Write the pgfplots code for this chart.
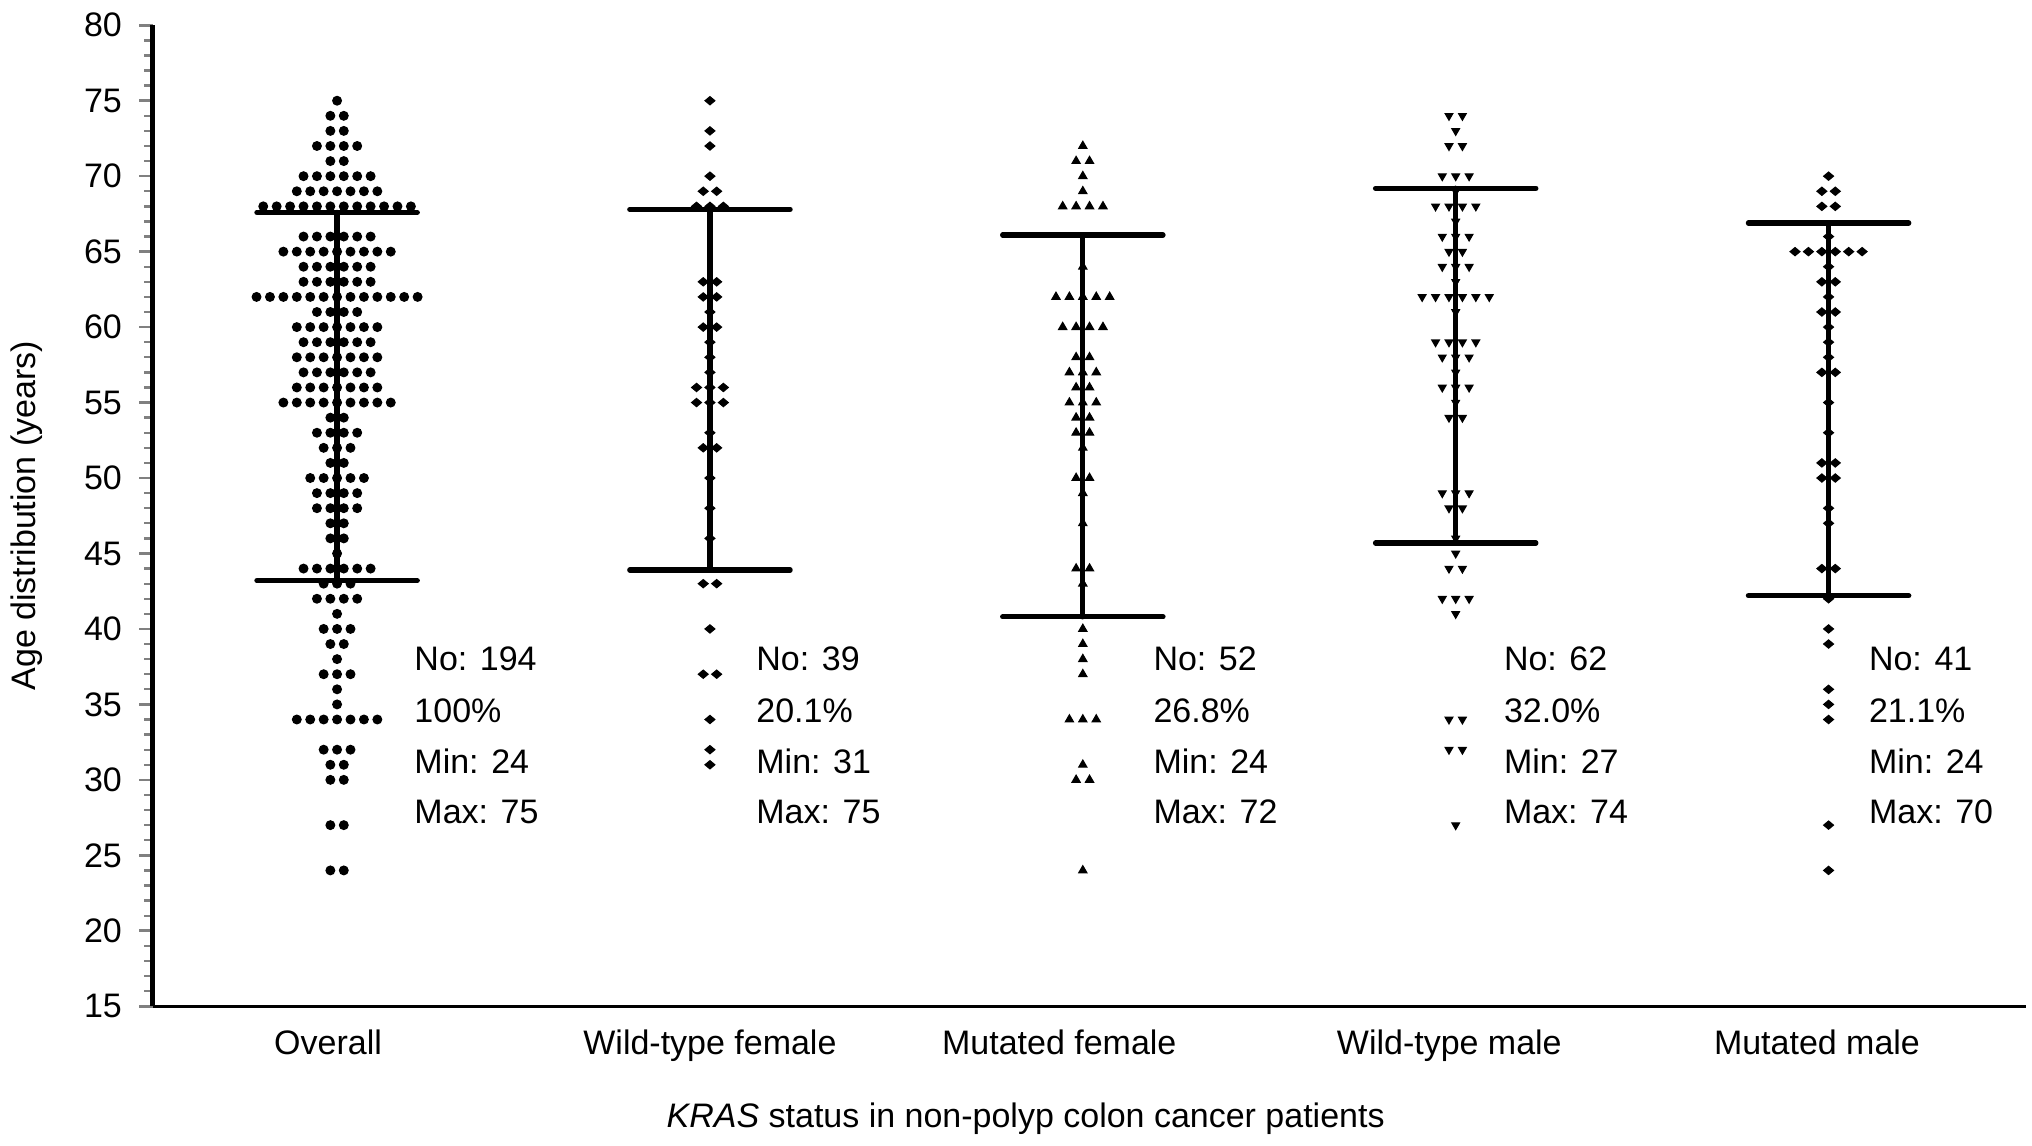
\documentclass[border=0pt]{standalone}
\usepackage{fontspec}
\setmainfont{Liberation Sans}
\usepackage{pgfplots}
\pgfplotsset{compat=1.18}
\begin{document}
\begin{tikzpicture}[font=\fontsize{11.7}{14}\selectfont]
\begin{axis}[
  width=645pt, height=337.7pt, scale only axis,
  xmin=-0.495, xmax=4.53, ymin=15, ymax=80,
  axis x line*=bottom, axis y line*=left,
  x axis line style={line width=1.15pt},
  y axis line style={line width=1.4pt},
  xtick={0,1,2,3,4},
  xticklabels={\hspace*{-6.2pt}Overall,Wild-type female,\hspace*{-16.2pt}Mutated female,\hspace*{-4.4pt}Wild-type male,\hspace*{-8pt}Mutated male},
  xtick style={draw=none},
  ytick={15,20,...,80},
  minor y tick num=4,
  tick align=outside,
  tick pos=left,
  major tick length=4.6pt, minor tick length=2.8pt,
  ytick style={line width=0.9pt},
  minor y tick style={line width=0.8pt},
  tick label style={font=\fontsize{11.7}{14}\selectfont},
  /pgf/number format/assume math mode=true,
  xticklabel style={yshift=0pt},
  yticklabel style={xshift=-2.4pt},
  xlabel={\textit{KRAS} status in non-polyp colon cancer patients},
  ylabel={Age distribution (years)},
  every axis x label/.style={at={(axis description cs:0.466,0)}, anchor=base, yshift=-41.7pt},
  every axis y label/.style={at={(axis description cs:-0.067,0.5)}, anchor=center, rotate=90},
  unbounded coords=jump,
  clip=false,
]
\coordinate (ll) at (rel axis cs:0,0);
\coordinate (ur) at (rel axis cs:1,1);

% Overall
\addplot[only marks, mark=*, mark size=1.5pt, black] coordinates {
(0,75)
(-0.018,74) (0.018,74)
(-0.018,73) (0.018,73)
(-0.054,72) (-0.018,72) (0.018,72) (0.054,72)
(-0.018,71) (0.018,71)
(-0.09,70) (-0.054,70) (-0.018,70) (0.018,70) (0.054,70) (0.09,70)
(-0.108,69) (-0.072,69) (-0.036,69) (0,69) (0.036,69) (0.072,69) (0.108,69)
(-0.198,68) (-0.162,68) (-0.126,68) (-0.09,68) (-0.054,68) (-0.018,68) (0.018,68) (0.054,68) (0.09,68) (0.126,68) (0.162,68) (0.198,68)
(-0.09,66) (-0.054,66) (-0.018,66) (0.018,66) (0.054,66) (0.09,66)
(-0.144,65) (-0.108,65) (-0.072,65) (-0.036,65) (0,65) (0.036,65) (0.072,65) (0.108,65) (0.144,65)
(-0.09,64) (-0.054,64) (-0.018,64) (0.018,64) (0.054,64) (0.09,64)
(-0.09,63) (-0.054,63) (-0.018,63) (0.018,63) (0.054,63) (0.09,63)
(-0.216,62) (-0.18,62) (-0.144,62) (-0.108,62) (-0.072,62) (-0.036,62) (0,62) (0.036,62) (0.072,62) (0.108,62) (0.144,62) (0.18,62) (0.216,62)
(-0.054,61) (-0.018,61) (0.018,61) (0.054,61)
(-0.108,60) (-0.072,60) (-0.036,60) (0,60) (0.036,60) (0.072,60) (0.108,60)
(-0.09,59) (-0.054,59) (-0.018,59) (0.018,59) (0.054,59) (0.09,59)
(-0.108,58) (-0.072,58) (-0.036,58) (0,58) (0.036,58) (0.072,58) (0.108,58)
(-0.09,57) (-0.054,57) (-0.018,57) (0.018,57) (0.054,57) (0.09,57)
(-0.108,56) (-0.072,56) (-0.036,56) (0,56) (0.036,56) (0.072,56) (0.108,56)
(-0.144,55) (-0.108,55) (-0.072,55) (-0.036,55) (0,55) (0.036,55) (0.072,55) (0.108,55) (0.144,55)
(-0.018,54) (0.018,54)
(-0.054,53) (-0.018,53) (0.018,53) (0.054,53)
(-0.036,52) (0,52) (0.036,52)
(-0.018,51) (0.018,51)
(-0.072,50) (-0.036,50) (0,50) (0.036,50) (0.072,50)
(-0.054,49) (-0.018,49) (0.018,49) (0.054,49)
(-0.054,48) (-0.018,48) (0.018,48) (0.054,48)
(-0.018,47) (0.018,47)
(-0.018,46) (0.018,46)
(0,45)
(-0.09,44) (-0.054,44) (-0.018,44) (0.018,44) (0.054,44) (0.09,44)
(-0.036,43) (0,43) (0.036,43)
(-0.054,42) (-0.018,42) (0.018,42) (0.054,42)
(0,41)
(-0.036,40) (0,40) (0.036,40)
(-0.018,39) (0.018,39)
(0,38)
(-0.036,37) (0,37) (0.036,37)
(0,36)
(0,35)
(-0.108,34) (-0.072,34) (-0.036,34) (0,34) (0.036,34) (0.072,34) (0.108,34)
(-0.036,32) (0,32) (0.036,32)
(-0.018,31) (0.018,31)
(-0.018,30) (0.018,30)
(-0.018,27) (0.018,27)
(-0.018,24) (0.018,24)
};

% Wild-type female
\addplot[only marks, mark=diamond*, mark size=1.4pt, mark options={xscale=1.6}, black] coordinates {
(1,75) (1,73) (1,72) (1,70)
(0.982,69) (1.018,69)
(0.964,68) (1,68) (1.036,68)
(0.982,63) (1.018,63)
(0.982,62) (1.018,62)
(1,61)
(0.982,60) (1.018,60)
(1,59) (1,58) (1,57)
(0.964,56) (1,56) (1.036,56)
(0.964,55) (1,55) (1.036,55)
(1,53)
(0.982,52) (1.018,52)
(1,50) (1,48) (1,46)
(0.982,43) (1.018,43)
(1,40)
(0.982,37) (1.018,37)
(1,34) (1,32) (1,31)
};

% Mutated female
\addplot[only marks, mark=triangle*, mark size=1.6pt, black] coordinates {
(2,72)
(1.982,71) (2.018,71)
(2,70) (2,69)
(1.946,68) (1.982,68) (2.018,68) (2.054,68)
(2,64)
(1.928,62) (1.964,62) (2,62) (2.036,62) (2.072,62)
(1.946,60) (1.982,60) (2.018,60) (2.054,60)
(1.982,58) (2.018,58)
(1.964,57) (2,57) (2.036,57)
(1.982,56) (2.018,56)
(1.964,55) (2,55) (2.036,55)
(1.982,54) (2.018,54)
(1.982,53) (2.018,53)
(2,52)
(1.982,50) (2.018,50)
(2,49) (2,47)
(1.982,44) (2.018,44)
(2,43) (2,40) (2,39) (2,38) (2,37)
(1.964,34) (2,34) (2.036,34)
(2,31)
(1.982,30) (2.018,30)
(2,24)
};

% Wild-type male
\addplot[only marks, mark=triangle*, mark size=1.5pt, mark options={rotate=180}, black] coordinates {
(2.982,74) (3.018,74)
(3,73)
(2.982,72) (3.018,72)
(2.964,70) (3,70) (3.036,70)
(3,69)
(2.946,68) (2.982,68) (3.018,68) (3.054,68)
(3,67)
(2.964,66) (3,66) (3.036,66)
(2.982,65) (3.018,65)
(2.964,64) (3,64) (3.036,64)
(3,63)
(2.91,62) (2.946,62) (2.982,62) (3.018,62) (3.054,62) (3.09,62)
(3,61)
(2.946,59) (2.982,59) (3.018,59) (3.054,59)
(2.964,58) (3,58) (3.036,58)
(3,57)
(2.964,56) (3,56) (3.036,56)
(3,55)
(2.982,54) (3.018,54)
(2.964,49) (3,49) (3.036,49)
(2.982,48) (3.018,48)
(3,46) (3,45)
(2.982,44) (3.018,44)
(2.964,42) (3,42) (3.036,42)
(3,41)
(2.982,34) (3.018,34)
(2.982,32) (3.018,32)
(3,27)
};

% Mutated male
\addplot[only marks, mark=diamond*, mark size=1.4pt, mark options={xscale=1.6}, black] coordinates {
(4,70)
(3.982,69) (4.018,69)
(3.982,68) (4.018,68)
(4,66)
(3.91,65) (3.946,65) (3.982,65) (4.018,65) (4.054,65) (4.09,65)
(4,64)
(3.982,63) (4.018,63)
(4,62)
(3.982,61) (4.018,61)
(4,60) (4,59) (4,58)
(3.982,57) (4.018,57)
(4,55) (4,53)
(3.982,51) (4.018,51)
(3.982,50) (4.018,50)
(4,48) (4,47)
(3.982,44) (4.018,44)
(4,42) (4,40) (4,39) (4,36) (4,35) (4,34) (4,27) (4,24)
};

% mean +/- SD bars
\addplot[line width=1.8pt, line cap=round, black] coordinates {
(-0.215,67.6) (0.215,67.6) (0,nan) (0,67.6) (0,43.2) (0,nan) (-0.215,43.2) (0.215,43.2)
};
\addplot[line width=1.8pt, line cap=round, black] coordinates {
(0.785,67.8) (1.215,67.8) (1,nan) (1,67.8) (1,43.9) (1,nan) (0.785,43.9) (1.215,43.9)
};
\addplot[line width=1.8pt, line cap=round, black] coordinates {
(1.785,66.1) (2.215,66.1) (2,nan) (2,66.1) (2,40.8) (2,nan) (1.785,40.8) (2.215,40.8)
};
\addplot[line width=1.8pt, line cap=round, black] coordinates {
(2.785,69.2) (3.215,69.2) (3,nan) (3,69.2) (3,45.7) (3,nan) (2.785,45.7) (3.215,45.7)
};
\addplot[line width=1.8pt, line cap=round, black] coordinates {
(3.785,66.9) (4.215,66.9) (4,nan) (4,66.9) (4,42.2) (4,nan) (3.785,42.2) (4.215,42.2)
};

% group summaries
\begin{scope}[every node/.style={anchor=base west, inner sep=0pt}]
\node at (axis cs:0.206,37.25) {No: 194};
\node at (axis cs:0.206,33.8) {100\%};
\node at (axis cs:0.206,30.45) {Min: 24};
\node at (axis cs:0.206,27.1) {Max: 75};
\node at (axis cs:1.123,37.25) {No: 39};
\node at (axis cs:1.123,33.8) {20.1\%};
\node at (axis cs:1.123,30.45) {Min: 31};
\node at (axis cs:1.123,27.1) {Max: 75};
\node at (axis cs:2.188,37.25) {No: 52};
\node at (axis cs:2.188,33.8) {26.8\%};
\node at (axis cs:2.188,30.45) {Min: 24};
\node at (axis cs:2.188,27.1) {Max: 72};
\node at (axis cs:3.128,37.25) {No: 62};
\node at (axis cs:3.128,33.8) {32.0\%};
\node at (axis cs:3.128,30.45) {Min: 27};
\node at (axis cs:3.128,27.1) {Max: 74};
\node at (axis cs:4.107,37.25) {No: 41};
\node at (axis cs:4.107,33.8) {21.1\%};
\node at (axis cs:4.107,30.45) {Min: 24};
\node at (axis cs:4.107,27.1) {Max: 70};
\end{scope}
\end{axis}
\pgfresetboundingbox
\path[use as bounding box] ([shift={(-52.5pt,-48pt)}]ll) rectangle ([shift={(2pt,8.7pt)}]ur);
\end{tikzpicture}
\end{document}
